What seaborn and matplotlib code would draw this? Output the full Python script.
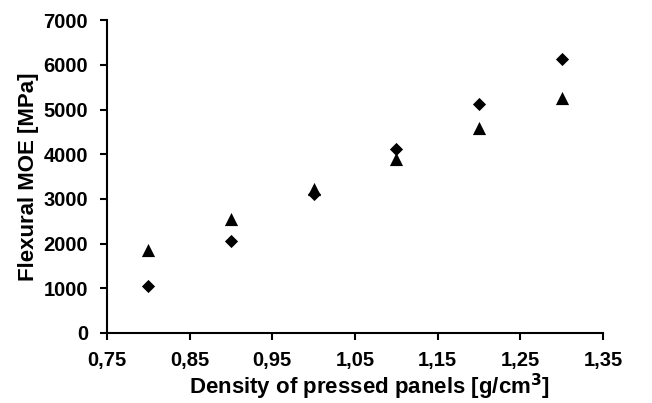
import matplotlib
matplotlib.use("Agg")
import matplotlib.pyplot as plt
import seaborn as sns
import pandas as pd

density = [0.8, 0.9, 1.0, 1.1, 1.2, 1.3]
moe_diamond = [1050, 2065, 3110, 4110, 5120, 6130]
moe_triangle = [1860, 2550, 3220, 3890, 4590, 5260]
x_ticks = [0.75, 0.85, 0.95, 1.05, 1.15, 1.25, 1.35]
y_ticks = [0, 1000, 2000, 3000, 4000, 5000, 6000, 7000]

sns.set_theme(style="ticks")
plt.rcParams['font.family'] = ['Liberation Sans', 'DejaVu Sans']
plt.rcParams['text.color'] = 'black'
plt.rcParams['axes.labelcolor'] = 'black'

df = pd.DataFrame({
    "density": density * 2,
    "moe": moe_diamond + moe_triangle,
    "series": ["A"] * len(density) + ["B"] * len(density),
})

fig = plt.figure(figsize=(6.52, 4.03), dpi=100)
ax = fig.add_axes([0.164, 0.174, 0.761, 0.776])

sns.scatterplot(data=df[df.series == "A"], x="density", y="moe", marker="D",
                s=45, color="black", edgecolor="black", linewidth=0, ax=ax, legend=False)
sns.scatterplot(data=df[df.series == "B"], x="density", y="moe", marker="^",
                s=90, color="black", edgecolor="black", linewidth=0, ax=ax, legend=False)

ax.set_xlim(0.75, 1.35)
ax.set_ylim(0, 7000)
ax.set_xticks(x_ticks)
ax.set_xticklabels([f"{t:.2f}".replace(".", ",") for t in x_ticks])
ax.set_yticks(y_ticks)
ax.set_yticklabels([str(t) for t in y_ticks])

for sp in ["top", "right"]:
    ax.spines[sp].set_visible(False)
for sp in ["left", "bottom"]:
    ax.spines[sp].set_linewidth(1.5)
    ax.spines[sp].set_color("black")

ax.tick_params(axis="both", direction="out", length=5, width=1.5, colors="black",
               labelsize=14.5)
ax.tick_params(axis="x", pad=8)
ax.tick_params(axis="y", pad=8.5)
for lbl in ax.get_xticklabels() + ax.get_yticklabels():
    lbl.set_fontweight("bold")

ax.set_xlabel("Density of pressed panels [g/cm$^\\mathbf{3}$]", fontsize=16,
              fontweight="bold", labelpad=1, color="black")
ax.xaxis.label.set_x(0.53)
ax.set_ylabel("Flexural MOE [MPa]", fontsize=16, fontweight="bold", labelpad=3,
              color="black")

fig.savefig("out.png", dpi=100)
